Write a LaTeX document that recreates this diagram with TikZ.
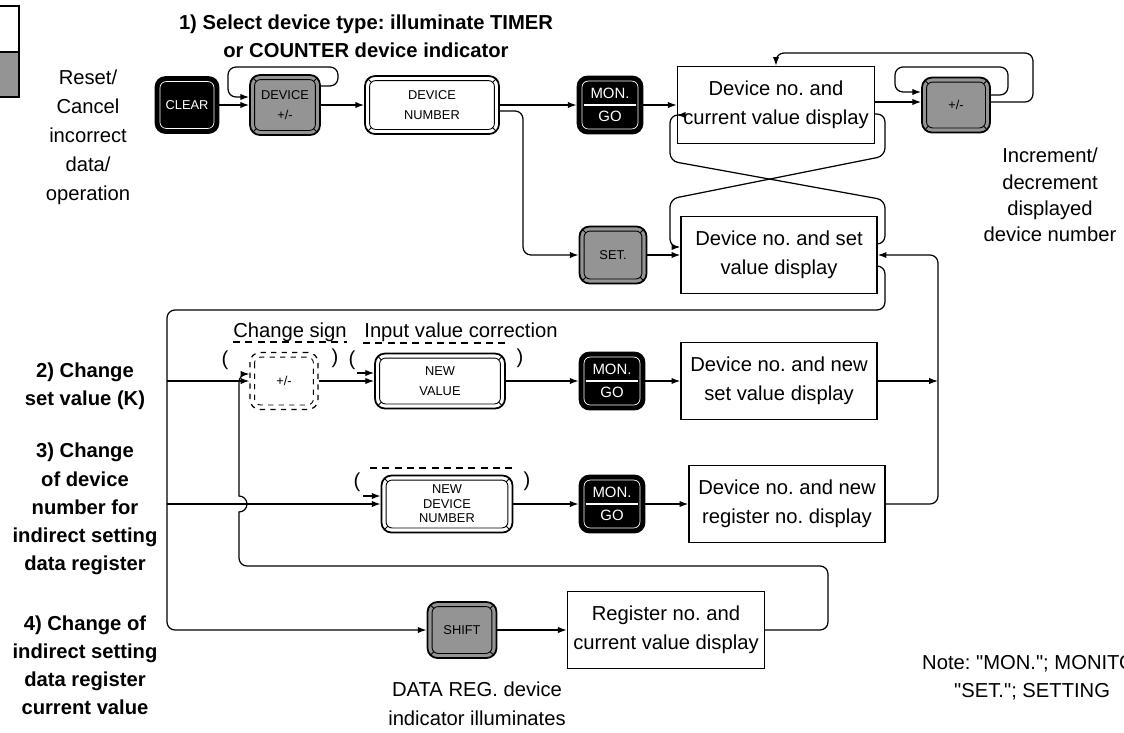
\documentclass[tikz,border=0pt]{standalone}
\usepackage{fontspec}
\setmainfont{Liberation Sans}
\usetikzlibrary{arrows.meta}
\frenchspacing

\colorlet{keygray}{black!42}
\newcommand\keyfont{\fontsize{7.3}{11.3}\selectfont}
\newcommand\dispfont{\fontsize{11.5}{16.5}\selectfont}
\newcommand\casefont{\bfseries\fontsize{11.5}{16}\selectfont}

% inner outline of a key, with the bevel lines in the corners
\newcommand\keyrim[1]{%
  \draw[#1,rounded corners=1.2mm]
    ([shift={(2.6pt,-2.6pt)}]path picture bounding box.north west) rectangle
    ([shift={(-2.6pt,2.6pt)}]path picture bounding box.south east);
  \foreach \corner/\sx/\sy in {north west/1/-1,north east/-1/-1,south west/1/1,south east/-1/1}
    \draw[#1] (path picture bounding box.\corner) -- ++(\sx*3.7pt,\sy*3.7pt);}
% inner outline only
\newcommand\keyedge[1]{%
  \draw[#1,rounded corners=1.2mm]
    ([shift={(2.6pt,-2.6pt)}]path picture bounding box.north west) rectangle
    ([shift={(-2.6pt,2.6pt)}]path picture bounding box.south east);}

\begin{document}
\begin{tikzpicture}[x=0.2mm, y=-0.2mm, >={Latex[length=5pt,width=3.6pt]},
    key/.style={draw, line width=1pt, rounded corners=2mm, inner sep=0pt,
      align=center, font=\keyfont},
    graykey/.style={key, fill=keygray, path picture={\keyrim{line width=.5pt}}},
    whitekey/.style={key, fill=white, path picture={\keyrim{line width=.5pt}}},
    blackkey/.style={key, fill=black, text=white,
      path picture={\keyedge{white,line width=.4pt}}},
    monkey/.style={blackkey, minimum width=13mm, minimum height=11.4mm,
      font=\fontsize{8.5}{13}\selectfont,
      path picture={\keyedge{white,line width=.4pt}
        \draw[white,line width=.6pt] ([xshift=3.5pt]path picture bounding box.west)
          -- ([xshift=-3.5pt]path picture bounding box.east);}},
    optkey/.style={key, dashed, line width=.7pt,
      path picture={\keyedge{dashed,line width=.5pt}}},
    disp/.style={draw, line width=.8pt, minimum width=39.2mm, minimum height=15.4mm,
      align=center, font=\dispfont},
    wire/.style={line width=.7pt, rounded corners=1.6mm},
    bracket/.style={dashed, line width=.6pt, dash pattern=on 4pt off 3pt}]

  \useasboundingbox (0,0) rectangle (1124,732);
  \clip (0,0) rectangle (1124,732);

  % key legend
  \draw[line width=.8pt] (-5,6) rectangle (19,52);
  \filldraw[fill=keygray, line width=.8pt] (-5,52) rectangle (19,97);

  % 1) device selection
  \node[blackkey, minimum width=12.6mm, minimum height=11.2mm] (clear) at (187,105) {CLEAR};
  \node[graykey, minimum width=14mm, minimum height=12mm] (devkey) at (285,105) {DEVICE\\+/-};
  \node[whitekey, minimum width=26.8mm, minimum height=11.6mm] (devnum) at (432,105) {DEVICE\\NUMBER};
  \node[monkey] (mon1) at (610,105) {MON.\\GO};
  \node[graykey, minimum width=13.4mm, minimum height=11.4mm] (setkey) at (613,255) {SET.};
  \node[graykey, minimum width=13.6mm, minimum height=11mm] (pm) at (956,105) {+/-};

  \node[disp] (curdisp) at (776,105) {Device no. and\\current value display};
  \node[disp] (setdisp) at (779,255) {Device no. and set\\value display};

  % 2) to 4) changing values
  \node[optkey, minimum width=13.6mm, minimum height=11.4mm] (sign) at (284,381) {+/-};
  \node[whitekey, minimum width=26mm, minimum height=11mm] (newval) at (440,381) {NEW\\VALUE};
  \node[monkey] (mon2) at (612,381) {MON.\\GO};
  \node[disp] (newset) at (779,381) {Device no. and new\\set value display};

  \node[whitekey, minimum width=26.2mm, minimum height=11.4mm,
    font=\fontsize{7.3}{8.2}\selectfont] (newdev) at (447,504) {NEW\\DEVICE\\NUMBER};
  \node[monkey] (mon3) at (612,504) {MON.\\GO};
  \node[disp] (newreg) at (787,504) {Device no. and new\\register no. display};

  \node[graykey, minimum width=13.8mm, minimum height=11.2mm] (shiftkey) at (462,630) {SHIFT};
  \node[disp] (regdisp) at (666,630) {Register no. and\\current value display};

  % texts
  \node[font=\casefont, align=center] (title) at (366,36)
    {1) Select device type: illuminate TIMER\\or COUNTER device indicator};
  \node[font=\dispfont, align=center] (reset) at (88,137)
    {Reset/\\Cancel\\incorrect\\data/\\operation};
  \node[font=\fontsize{11.5}{15}\selectfont, align=center] (incr) at (1050,195)
    {Increment/\\decrement\\displayed\\device number};
  \node[font=\casefont, align=center] (case2) at (85,386) {2) Change\\set value (K)};
  \node[font=\casefont, align=center] (case3) at (85,509)
    {3) Change\\of device\\number for\\indirect setting\\data register};
  \node[font=\casefont, align=center] (case4) at (85,665)
    {4) Change of\\indirect setting\\data register\\current value};
  \node[font=\dispfont] (signlbl) at (290,332) {Change sign};
  \node[font=\dispfont] (corrlbl) at (461,332) {Input value correction};
  \node[font=\dispfont, align=center] (datareg) at (477,704)
    {DATA REG. device\\indicator illuminates};
  \node[font=\dispfont, anchor=west] (note) at (916,664)
    {Note: \textquotedbl MON.\textquotedbl; MONITOR};
  \node[font=\dispfont, anchor=west] (note2) at (948,692)
    {\textquotedbl SET.\textquotedbl; SETTING};

  % optional keys in brackets
  \node[font=\dispfont] (lp1) at (225,360) {(};
  \node[font=\dispfont] (rp1) at (335,358) {)};
  \node[font=\dispfont] (lp2) at (352,360) {(};
  \node[font=\dispfont] (rp2) at (520,358) {)};
  \node[font=\dispfont] (lp3) at (357,482) {(};
  \node[font=\dispfont] (rp3) at (527,481) {)};
  \draw[bracket] (233,342) -- (347,342);
  \draw[bracket] (363,343) -- (508,343);
  \draw[bracket] (370,468) -- (517,468);

  % first row
  \draw[wire,->] (clear) -- (devkey);
  \draw[wire,->] (devkey.east |- 0,86) -- (338,86) -- (338,67) -- (228,67) -- (228,97)
    -- (devkey.west |- 0,97);
  \draw[wire,->] (devkey) -- (devnum);
  \draw[wire,->] (devnum) -- (mon1);
  \draw[wire,->] (devnum.east |- 0,111) -- (523,111) -- (523,255) -- (setkey);
  \draw[wire,->] (mon1) -- (curdisp);
  \draw[wire,->] (setkey) -- (setdisp);

  % increment / decrement
  \draw[wire,->] (curdisp.east |- 0,102) -- (pm.west |- 0,102);
  \draw[wire,->] (pm.east |- 0,95) -- (1008,95) -- (1008,67) -- (895,67) -- (895,92)
    -- (pm.west |- 0,92);
  \draw[wire,->] (pm.east |- 0,102) -- (1033,102) -- (1033,53) -- (curdisp.north |- 0,53)
    -- (curdisp.north);

  % switching between the two displays
  \draw[wire,->] (curdisp.east |- 0,114) -- (885,114) -- (885,156) -- (670,199) -- (670,247)
    -- (setdisp.west |- 0,247);
  \draw[wire,->] (setdisp.east |- 0,244) -- (885,244) -- (885,200) -- (670,161) -- (670,115)
    -- (curdisp.west |- 0,115);

  % bus down the left side
  \draw[wire,->] (setdisp.east |- 0,266) -- (885,266) -- (885,310) -- (167,310) -- (167,630)
    -- (shiftkey);
  \draw[wire,->] (167,381) -- (sign);
  \draw[wire,->] (167,504) -- (newdev);

  \draw[wire,->] (sign) -- (newval);
  \draw[wire,->] (newval.west) ++(-3.5mm,1.6mm) -- ++(3.5mm,0);
  \draw[wire,->] (newval) -- (mon2);
  \draw[wire,->] (mon2) -- (newset);
  \draw[wire,->] (newset) -- (newset.east -| 938,0);

  \draw[wire,->] (newdev.west) ++(-3.5mm,1.6mm) -- ++(3.5mm,0);
  \draw[wire,->] (newdev) -- (mon3);
  \draw[wire,->] (mon3) -- (newreg);
  \draw[wire,->] (newreg) -- (938,504) -- (938,255) -- (setdisp.east |- 0,255);

  % back to the sign key, hopping over the third row
  \draw[wire,->] (shiftkey) -- (regdisp);
  \draw[wire,->] (regdisp.east) -- (828,630) -- (828,566) -- (239,566)
    [sharp corners] -- (239,512) arc[start angle=-90, end angle=90, radius=1.6mm]
    -- (239,385) [rounded corners=1.6mm] -- (239,374) -- (sign.west |- 0,374);
\end{tikzpicture}
\end{document}
